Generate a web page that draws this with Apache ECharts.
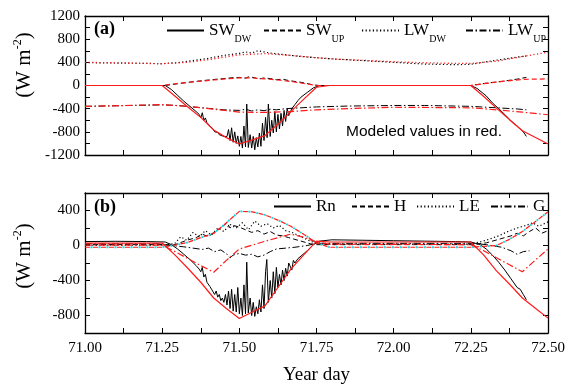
<!DOCTYPE html>
<html><head><meta charset="utf-8">
<script src="https://cdn.jsdelivr.net/npm/echarts@6/dist/echarts.min.js"></script>
<style>html,body{margin:0;padding:0;background:#fff}#c{width:572px;height:389px}</style>
</head><body><div id="c"></div>
<script>
// ---------- x axis (Year day) ticks ----------
const xTickLabels = ['71.00','71.25','71.50','71.75','72.00','72.25','72.50'];
const yTicksA = [-1200,-800,-400,0,400,800,1200];
const yTicksB = [-800,-400,0,400];

// ---------- panel (a): observed (black) [day, W m-2] ----------
const obsSWdw = [[71,0],[71.26,0],[71.28,-70],[71.30,-170],[71.32,-270],[71.34,-360],[71.36,-450],[71.37,-500],[71.375,-560],[71.38,-470],[71.385,-600],[71.39,-560],[71.395,-640],[71.40,-640],[71.405,-700],[71.41,-720],[71.415,-750],[71.42,-800],[71.43,-810],[71.435,-850],[71.44,-860],[71.45,-880],[71.455,-900],[71.46,-880],[71.465,-760],[71.47,-950],[71.475,-730],[71.48,-980],[71.485,-800],[71.49,-1000],[71.495,-870],[71.50,-1050],[71.505,-880],[71.51,-1080],[71.515,-700],[71.52,-1060],[71.524,-320],[71.529,-1070],[71.535,-850],[71.54,-1080],[71.545,-880],[71.55,-1110],[71.555,-900],[71.56,-1060],[71.565,-820],[71.57,-1050],[71.575,-650],[71.58,-950],[71.585,-550],[71.59,-900],[71.594,-320],[71.60,-880],[71.605,-600],[71.61,-820],[71.615,-450],[71.62,-800],[71.625,-500],[71.63,-750],[71.635,-480],[71.64,-700],[71.645,-430],[71.65,-620],[71.655,-400],[71.66,-520],[71.67,-400],[71.68,-330],[71.69,-260],[71.70,-200],[71.72,-120],[71.74,-40],[71.76,0],[72.25,0],[72.27,-50],[72.30,-180],[72.32,-300],[72.34,-400],[72.36,-500],[72.38,-610],[72.40,-700],[72.41,-750],[72.42,-800],[72.43,-880]];
const obsSWup = [[71,0],[71.26,0],[71.30,30],[71.35,65],[71.40,95],[71.45,120],[71.48,135],[71.50,140],[71.52,125],[71.53,150],[71.55,135],[71.56,110],[71.58,130],[71.60,120],[71.62,100],[71.64,110],[71.66,85],[71.70,55],[71.74,10],[71.76,0],[72.25,0],[72.30,40],[72.35,70],[72.40,110],[72.43,140]];
const obsLWdw = [[71,395],[71.25,378],[71.30,395],[71.35,430],[71.40,470],[71.45,520],[71.50,555],[71.52,580],[71.54,560],[71.56,600],[71.58,580],[71.60,560],[71.65,530],[71.70,500],[71.80,460],[71.90,430],[72.00,400],[72.10,370],[72.20,360],[72.25,365],[72.30,410],[72.35,450],[72.40,490],[72.43,510]];
const obsLWup = [[71,-360],[71.25,-335],[71.30,-345],[71.35,-370],[71.40,-395],[71.45,-420],[71.50,-430],[71.52,-410],[71.54,-440],[71.56,-420],[71.58,-435],[71.60,-410],[71.62,-420],[71.65,-400],[71.70,-385],[71.75,-370],[71.85,-355],[72.00,-345],[72.10,-345],[72.20,-355],[72.25,-360],[72.30,-375],[72.35,-390],[72.40,-405],[72.43,-420]];

// ---------- panel (a): modeled (red) ----------
const modSWdw = [[71,0],[71.25,0],[71.292,-185],[71.333,-370],[71.375,-550],[71.417,-770],[71.458,-900],[71.5,-1010],[71.542,-940],[71.583,-865],[71.625,-670],[71.667,-450],[71.708,-240],[71.75,-30],[71.792,0],[72.25,0],[72.292,-190],[72.333,-390],[72.375,-590],[72.417,-780],[72.458,-895],[72.5,-1010]];
const modSWup = [[71,0],[71.25,0],[71.292,30],[71.333,55],[71.375,75],[71.417,95],[71.458,115],[71.5,130],[71.542,130],[71.583,115],[71.625,95],[71.667,70],[71.708,35],[71.75,0],[72.25,0],[72.333,60],[72.417,105],[72.5,115]];
const modLWdw = [[71,400],[71.125,390],[71.25,375],[71.333,400],[71.417,460],[71.5,530],[71.583,550],[71.667,520],[71.75,480],[71.833,450],[71.917,430],[72,410],[72.083,395],[72.167,385],[72.25,380],[72.333,420],[72.417,500],[72.5,575]];
const modLWup = [[71,-362],[71.25,-330],[71.333,-360],[71.417,-410],[71.5,-460],[71.583,-465],[71.667,-450],[71.75,-420],[71.875,-395],[72,-375],[72.125,-380],[72.25,-385],[72.333,-420],[72.417,-460],[72.5,-505]];

// ---------- panel (b): observed (black) ----------
const obsRn = [[71,45],[71.1,48],[71.2,45],[71.26,40],[71.28,10],[71.30,-40],[71.32,-100],[71.34,-160],[71.36,-230],[71.37,-270],[71.375,-300],[71.38,-250],[71.385,-360],[71.39,-330],[71.395,-420],[71.40,-440],[71.405,-470],[71.41,-500],[71.415,-530],[71.42,-560],[71.425,-520],[71.43,-590],[71.435,-560],[71.44,-630],[71.445,-600],[71.45,-650],[71.455,-560],[71.46,-680],[71.465,-520],[71.47,-720],[71.475,-500],[71.48,-750],[71.485,-560],[71.49,-760],[71.495,-480],[71.50,-780],[71.505,-600],[71.51,-800],[71.515,-450],[71.52,-780],[71.524,-190],[71.529,-770],[71.535,-600],[71.54,-800],[71.545,-650],[71.55,-810],[71.555,-700],[71.56,-780],[71.565,-620],[71.57,-760],[71.575,-450],[71.58,-720],[71.585,-300],[71.589,-160],[71.594,-650],[71.60,-400],[71.605,-600],[71.61,-300],[71.615,-550],[71.62,-250],[71.625,-480],[71.63,-330],[71.635,-450],[71.64,-280],[71.645,-400],[71.65,-260],[71.655,-350],[71.66,-200],[71.67,-280],[71.675,-170],[71.68,-200],[71.69,-150],[71.70,-120],[71.72,-60],[71.74,10],[71.76,50],[71.80,65],[71.90,60],[72.00,55],[72.10,50],[72.20,45],[72.25,40],[72.28,10],[72.30,-40],[72.32,-110],[72.34,-190],[72.36,-280],[72.38,-380],[72.40,-480],[72.41,-500],[72.42,-560],[72.43,-620]];
const obsH = [[71,10],[71.25,10],[71.28,0],[71.30,20],[71.33,60],[71.36,90],[71.38,130],[71.40,100],[71.42,160],[71.44,200],[71.46,260],[71.47,200],[71.48,230],[71.50,210],[71.52,180],[71.54,150],[71.56,170],[71.58,130],[71.60,160],[71.62,120],[71.64,110],[71.66,90],[71.68,70],[71.70,50],[71.73,20],[71.75,10],[72.25,10],[72.30,30],[72.34,70],[72.38,110],[72.40,140],[72.42,110],[72.44,160],[72.46,200],[72.48,140],[72.5,170]];
const obsLE = [[71,5],[71.25,5],[71.29,20],[71.31,100],[71.33,60],[71.35,150],[71.37,100],[71.39,170],[71.41,120],[71.43,200],[71.45,160],[71.47,240],[71.49,200],[71.51,260],[71.53,180],[71.55,280],[71.57,220],[71.59,250],[71.61,200],[71.63,230],[71.65,170],[71.67,150],[71.70,100],[71.73,50],[71.76,15],[72.25,15],[72.30,60],[72.34,110],[72.37,160],[72.40,200],[72.43,230],[72.45,260],[72.47,220],[72.5,270]];
const obsG = [[71,20],[71.25,20],[71.28,0],[71.32,-15],[71.35,-30],[71.38,-45],[71.40,-30],[71.42,-70],[71.44,-50],[71.46,-100],[71.47,-140],[71.48,-110],[71.50,-90],[71.52,-110],[71.54,-100],[71.56,-130],[71.58,-110],[71.60,-70],[71.62,-40],[71.65,-30],[71.68,-20],[71.72,0],[71.75,25],[72.25,25],[72.30,10],[72.35,-20],[72.38,-60],[72.40,-100],[72.42,-70],[72.44,-60]];

// ---------- panel (b): modeled (red; cyan overlay for H/LE) ----------
const modRn = [[71,28],[71.25,28],[71.292,-110],[71.333,-260],[71.375,-420],[71.417,-600],[71.458,-720],[71.5,-835],[71.542,-760],[71.583,-690],[71.625,-480],[71.667,-270],[71.708,-110],[71.75,50],[71.792,40],[72.25,40],[72.292,-110],[72.333,-290],[72.375,-440],[72.417,-600],[72.458,-715],[72.5,-830]];
const modHLE = [[71,-20],[71.25,-20],[71.292,5],[71.333,35],[71.375,90],[71.417,138],[71.458,260],[71.5,390],[71.542,385],[71.583,350],[71.625,290],[71.667,220],[71.708,130],[71.75,30],[71.792,-20],[72.25,-20],[72.292,-10],[72.333,0],[72.375,70],[72.417,160],[72.458,270],[72.5,385]];
const modG = [[71,5],[71.25,5],[71.292,-70],[71.333,-150],[71.375,-230],[71.417,-305],[71.458,-170],[71.5,-40],[71.542,5],[71.583,48],[71.625,90],[71.667,130],[71.708,95],[71.75,40],[71.792,15],[72.25,10],[72.292,-60],[72.333,-140],[72.375,-220],[72.417,-300],[72.458,-170],[72.5,-40]];

const SERIF = 'Liberation Serif';
const DASH = {solid:'solid', dashed:[5,3], dotted:[1.2,2.4], dashdot:[7,2.5,1.5,2.5], cyandot:[2,6]};
const RED = '#ff1a1a', CYAN = '#19d8e0';

function ln(name, data, gi, color, dash, width, offset){
  return {name, type:'line', data, xAxisIndex: gi*2, yAxisIndex: gi*2, symbol:'none', silent:true,
    animation:false, lineStyle:{color, width, type: DASH[dash], dashOffset: offset||0}, itemStyle:{color}};
}
function xAx(gi, pos, labels, name){
  return {type:'value', gridIndex:gi, position:pos, min:71, max:72.5, interval:0.125,
    axisLine:{show:true, onZero:false, lineStyle:{color:'#000', width:1.3}},
    axisTick:{show:true, inside:true, length:5, lineStyle:{color:'#000', width:1}},
    splitLine:{show:false},
    axisLabel:{show:labels, margin:8, color:'#000', fontFamily:SERIF, fontSize:15,
      formatter:v => { const q=v*4; return Math.abs(q-Math.round(q))<1e-6 ? xTickLabels[Math.round(q)-284] : ''; }},
    name: name||'', nameLocation:'middle', nameGap:33,
    nameTextStyle:{color:'#000', fontFamily:SERIF, fontSize:19}};
}
function yAx(gi, pos, min, max, labels, ticks){
  return {type:'value', gridIndex:gi, position:pos, min, max, interval:200,
    axisLine:{show:true, onZero:false, lineStyle:{color:'#000', width:1.3}},
    axisTick:{show:true, inside:true, length:5, lineStyle:{color:'#000', width:1}},
    splitLine:{show:false},
    axisLabel:{show:labels, margin:5, color:'#000', fontFamily:SERIF, fontSize:15, showMinLabel:true, showMaxLabel:true,
      formatter:v => ticks.indexOf(v) >= 0 ? String(v) : ''}};
}
function leg(name, left, top, main, sub){
  return {data:[name], left, top, padding:0, itemWidth:37, itemHeight:14, selectedMode:false,
    itemStyle:{color:'rgba(0,0,0,0)', borderColor:'rgba(0,0,0,0)', borderWidth:0, opacity:0},
    formatter: sub ? '{m|'+main+'}{s|'+sub+'}' : '{m|'+main+'}',
    textStyle:{rich:{
      m:{fontFamily:SERIF, fontSize:17, color:'#000', lineHeight:18, verticalAlign:'middle'},
      s:{fontFamily:SERIF, fontSize:10, color:'#000', lineHeight:10, padding:[17,0,0,0], verticalAlign:'middle'}}}};
}
const supRich = {t:{fontFamily:SERIF, fontSize:21, color:'#000', lineHeight:22},
                 p:{fontFamily:SERIF, fontSize:12, color:'#000', lineHeight:12, padding:[0,0,12,0]}};

const chart = echarts.init(document.getElementById('c'), null, {renderer:'canvas'});
chart.setOption({
  backgroundColor:'#fff',
  animation:false,
  grid:[{left:85, right:24, top:16, height:139}, {left:85, right:24, top:193, height:140}],
  xAxis:[xAx(0,'bottom',false), xAx(0,'top',false), xAx(1,'bottom',true,'Year day'), xAx(1,'top',false)],
  yAxis:[yAx(0,'left',-1200,1200,true,yTicksA), yAx(0,'right',-1200,1200,false,yTicksA),
         yAx(1,'left',-1000,600,true,yTicksB), yAx(1,'right',-1000,600,false,yTicksB)],
  legend:[leg('SW_DW',166,17,'SW','DW'), leg('SW_UP',263,17,'SW','UP'), leg('LW_DW',361,17,'LW','DW'), leg('LW_UP',465,17,'LW','UP'),
          leg('Rn',273,198,'Rn'), leg('H',351,198,'H'), leg('LE',416,198,'LE'), leg('G',490,198,'G')],
  title:[{text:'(a)', left:94, top:20, padding:0, textStyle:{fontFamily:SERIF, fontSize:18, fontWeight:'bold', color:'#000'}},
         {text:'(b)', left:94, top:198, padding:0, textStyle:{fontFamily:SERIF, fontSize:18, fontWeight:'bold', color:'#000'}},
         {text:'Modeled values in red.', left:346, top:124, padding:0, textStyle:{fontFamily:'Liberation Sans', fontSize:15.5, fontWeight:'normal', color:'#000'}}],
  graphic:[
    {type:'text', x:24, y:65, rotation:Math.PI/2, style:{text:'{t|(W m}{p|-2}{t|)}', rich:supRich, align:'center', verticalAlign:'middle'}},
    {type:'text', x:24, y:256, rotation:Math.PI/2, style:{text:'{t|(W m}{p|-2}{t|)}', rich:supRich, align:'center', verticalAlign:'middle'}}
  ],
  series:[
    ln('SW_DW', obsSWdw, 0, '#000', 'solid', 1),
    ln('SW_UP', obsSWup, 0, '#000', 'dashed', 1),
    ln('LW_DW', obsLWdw, 0, '#000', 'dotted', 1.2),
    ln('LW_UP', obsLWup, 0, '#000', 'dashdot', 1),
    ln('SW_DW model', modSWdw, 0, RED, 'solid', 1.2),
    ln('SW_UP model', modSWup, 0, RED, 'dashed', 1.2),
    ln('LW_DW model', modLWdw, 0, RED, 'dotted', 1.3),
    ln('LW_UP model', modLWup, 0, RED, 'dashdot', 1.2),
    ln('Rn', obsRn, 1, '#000', 'solid', 1),
    ln('H', obsH, 1, '#000', 'dashed', 1),
    ln('LE', obsLE, 1, '#000', 'dotted', 1.2),
    ln('G', obsG, 1, '#000', 'dashdot', 1),
    ln('Rn model', modRn, 1, RED, 'solid', 1.2),
    ln('H model', modHLE, 1, RED, 'dashed', 1.2),
    ln('LE model', modHLE, 1, CYAN, 'cyandot', 1.8, 2.5),
    ln('G model', modG, 1, RED, 'dashdot', 1.2)
  ]
});
</script></body></html>
